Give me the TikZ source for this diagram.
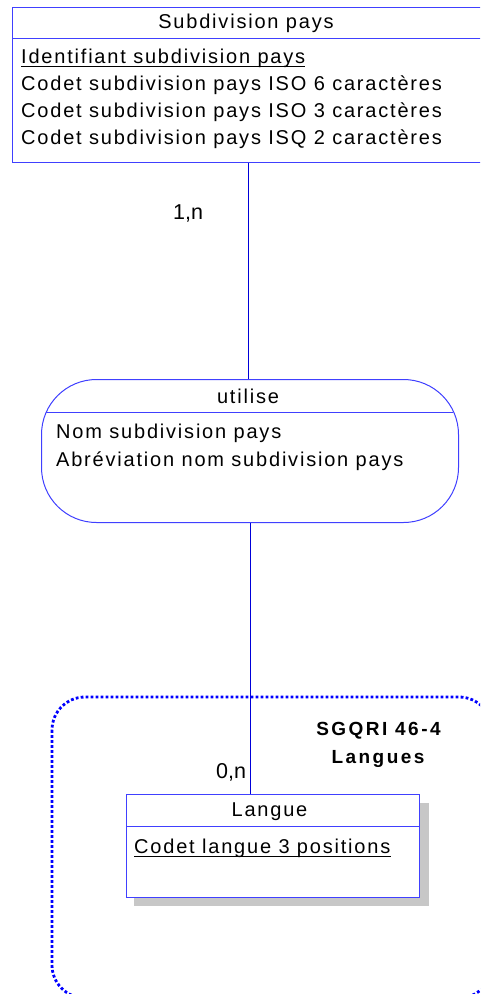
\documentclass[tikz,border=0pt]{standalone}
\usepackage{fontspec}
\setmainfont{Liberation Sans}
\newfontfamily\attrfont[LetterSpace=9]{Liberation Sans}
\newfontfamily\grpfont[LetterSpace=13]{Liberation Sans}
\begin{document}
\begin{tikzpicture}[x=1pt,y=-1pt,
  ent/.style={draw=blue!75, line width=1pt, fill=white, inner sep=0, anchor=north west},
  conn/.style={draw=blue!85!black, line width=0.8pt},
  sep/.style={draw=blue!75, line width=1pt},
  attr/.style={anchor=base west, inner sep=0, font=\attrfont\fontsize{20}{24}\selectfont},
  ttl/.style={anchor=base, inner sep=0, font=\attrfont\fontsize{20}{24}\selectfont},
  card/.style={anchor=base west, inner sep=0, font=\fontsize{21.5}{24}\selectfont},
  grptxt/.style={anchor=base, inner sep=0, font=\grpfont\bfseries\fontsize{19}{24}\selectfont},
  ul/.style={draw=black, line width=1.4pt},
  grp/.style={draw=blue, line width=2.8pt, dash pattern=on 2.8pt off 2.2pt, rounded corners=33pt}
]
\useasboundingbox (0,0) rectangle (480,994);
\clip (0,0) rectangle (480,994);
\fill[white] (0,0) rectangle (480,994);

% group
\draw[grp] (52,697) rectangle (492,998);
\node[grptxt] (g1) at (378.5,735) {SGQRI 46-4};
\node[grptxt] (g2) at (378,763) {Langues};

% Subdivision pays entity
\node[ent, minimum width=472pt, minimum height=155pt] (subdiv) at (12,7) {};
\draw[sep] (12,38) -- (484,38);
\node[ttl] (t1) at (246,28.3) {Subdivision pays};
\node[attr] (a1) at (21,63) {Identifiant subdivision pays};
\draw[ul] ([yshift=-3.6pt]a1.base west) -- ([yshift=-3.6pt]a1.base east);
\node[attr] (a2) at (21,90.5) {Codet subdivision pays ISO 6 caractères};
\node[attr] (a3) at (21,117) {Codet subdivision pays ISO 3 caractères};
\node[attr] (a4) at (21,144) {Codet subdivision pays ISQ 2 caractères};

% utilise association
\node[ent, rounded corners=55pt, minimum width=417pt, minimum height=143pt] (utilise) at (41,379) {};
\draw[sep] (45.6,412) -- (453.4,412);
\node[ttl] (t2) at (248,403) {utilise};
\node[attr] (b1) at (56,438) {Nom subdivision pays};
\node[attr] (b2) at (56,466) {Abréviation nom subdivision pays};

% Langue entity
\fill[black!22] (134,803) rectangle (429,906);
\node[ent, minimum width=293pt, minimum height=103pt] (langue) at (126,794) {};
\draw[sep] (126,826) -- (419,826);
\node[ttl] (t3) at (269.5,816.7) {Langue};
\node[attr] (c1) at (134,853) {Codet langue 3 positions};
\draw[ul] ([yshift=-3.6pt]c1.base west) -- ([yshift=-3.6pt]c1.base east);

% connectors
\draw[conn] (subdiv.south) -- (subdiv.south |- utilise.north);
\draw[conn] (utilise.south) -- (utilise.south |- langue.north);

% cardinalities
\node[card] (k1) at (173,219) {1,n};
\node[card] (k2) at (216,778) {0,n};
\end{tikzpicture}
\end{document}
